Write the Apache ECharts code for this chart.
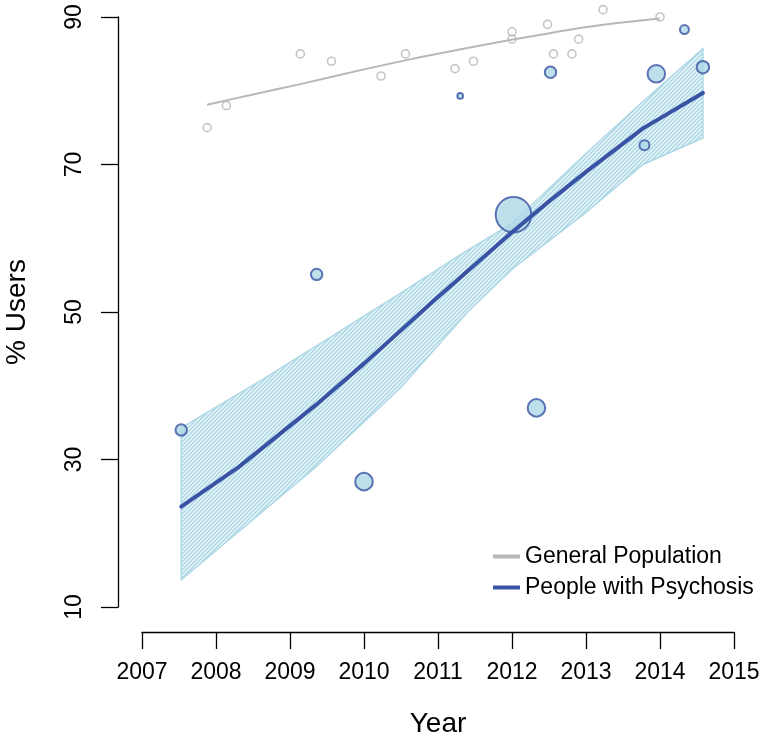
<!DOCTYPE html>
<html><head><meta charset="utf-8">
<script src="https://cdn.jsdelivr.net/npm/echarts@6/dist/echarts.min.js"></script>
<style>html,body{margin:0;padding:0;background:#fff}#c{width:760px;height:745px}</style>
</head><body><div id="c"></div>
<script>
// ---- General population (small hollow grey circles + trend) ----
const genYears  = [2007.88, 2008.14, 2009.14, 2009.56, 2010.23, 2010.56, 2011.23, 2011.48, 2012.0, 2012.0, 2012.48, 2012.56, 2012.81, 2012.9, 2013.23, 2014.0];
const genValues = [75, 78, 85, 84, 82, 85, 83, 84, 88, 87, 89, 85, 85, 87, 91, 90];
const genFitYears  = [2007.88, 2008.5, 2009.14, 2010.0, 2010.74, 2011.5, 2012.45, 2013.2, 2014.0];
const genFitValues = [78.1, 79.5, 80.9, 82.9, 84.5, 86.0, 87.7, 88.9, 89.8];

// ---- People with psychosis (bubbles sized by study sample) ----
const psyYears   = [2007.53, 2009.36, 2010.0, 2011.3, 2012.02, 2012.33, 2012.52, 2013.79, 2013.95, 2014.33, 2014.58];
const psyValues  = [34.0, 55.1, 27.0, 79.3, 63.2, 37.0, 82.5, 72.6, 82.3, 88.3, 83.2];
const psySampleN = [29, 29, 63, 9, 238, 63, 29, 23, 63, 19, 34];
const fitYears   = [2007.53, 2008.31, 2009.35, 2010.0, 2010.95, 2012.0, 2012.5, 2013.0, 2013.77, 2014.58];
const fitValues  = [23.6, 29.0, 37.4, 43.0, 51.6, 60.8, 65.0, 69.0, 74.9, 79.7];
const upperYears  = [2007.53, 2008.62, 2009.5, 2010.5, 2011.37, 2012.0, 2013.0, 2013.8, 2014.58];
const upperValues = [34.3, 40.8, 46.3, 52.6, 58.2, 62.0, 71.5, 78.8, 85.7];
const lowerYears  = [2007.53, 2009.35, 2010.5, 2011.4, 2012.0, 2013.0, 2013.77, 2014.58];
const lowerValues = [13.7, 29.0, 39.8, 50.0, 55.8, 63.5, 70.0, 73.6];

// ---- axes ----
const yTicks = [10, 30, 50, 70, 90];
const xMin = 2007, xMax = 2015;
const seriesNames = ['General Population', 'People with Psychosis'];

const FONT = '"Liberation Sans", Arial, Helvetica, sans-serif';
const BLUE = '#3953a4', LIGHT = '#add8e6', GREY = '#b8b8b8';

function hatchCanvas() {
  const s = 4;
  const c = document.createElement('canvas');
  c.width = s; c.height = s;
  const g = c.getContext('2d');
  g.strokeStyle = LIGHT; g.lineWidth = 1.8; g.lineCap = 'square';
  g.beginPath();
  g.moveTo(-1, s + 1); g.lineTo(s + 1, -1);
  g.moveTo(-1, 1); g.lineTo(1, -1);
  g.moveTo(s - 1, s + 1); g.lineTo(s + 1, s - 1);
  g.stroke();
  return c;
}
const hatch = hatchCanvas();

const zip = (xs, ys) => xs.map((x, i) => [x, ys[i]]);

const chart = echarts.init(document.getElementById('c'), null, {renderer: 'canvas'});
chart.setOption({
  animation: false,
  backgroundColor: '#fff',
  textStyle: {fontFamily: FONT, color: '#000'},
  grid: {left: 142, right: 26, top: 17, bottom: 138, containLabel: false, outerBoundsMode: 'none'},
  xAxis: {
    type: 'value', min: xMin, max: xMax, interval: 1, offset: 25,
    axisLine: {show: true, onZero: false, lineStyle: {color: '#000', width: 1.3}},
    axisTick: {show: true, length: 17, lineStyle: {color: '#000', width: 1.3}},
    axisLabel: {margin: 29, fontSize: 23, color: '#000', fontFamily: FONT, formatter: v => String(v), showMinLabel: true, showMaxLabel: true, hideOverlap: false},
    splitLine: {show: false},
    name: 'Year', nameLocation: 'middle', nameGap: 78,
    nameTextStyle: {fontSize: 28, color: '#000', fontFamily: FONT}
  },
  yAxis: {
    type: 'value', min: 10, max: 90, offset: 24,
    axisLine: {show: true, onZero: false, lineStyle: {color: '#000', width: 1.3}},
    axisTick: {show: true, length: 17, customValues: yTicks, lineStyle: {color: '#000', width: 1.3}},
    axisLabel: {customValues: yTicks, rotate: 90, margin: 32, fontSize: 23, color: '#000', fontFamily: FONT},
    splitLine: {show: false},
    name: '% Users', nameLocation: 'middle', nameGap: 87,
    nameTextStyle: {fontSize: 28, color: '#000', fontFamily: FONT}
  },
  legend: {
    data: seriesNames, orient: 'vertical', left: 488, top: 540,
    icon: 'rect', itemWidth: 27, itemHeight: 4, itemGap: 8,
    textStyle: {fontSize: 23, color: '#000', fontFamily: FONT, lineHeight: 23},
    selectedMode: false
  },
  series: [
    {
      type: 'scatter', name: 'gen-points', z: 1, clip: false,
      data: zip(genYears, genValues), symbol: 'circle', symbolSize: 8,
      itemStyle: {color: 'rgba(0,0,0,0)', borderColor: GREY, borderWidth: 1.6},
      silent: true
    },
    {
      type: 'line', name: seriesNames[0], z: 2, data: zip(genFitYears, genFitValues),
      showSymbol: false, smooth: 0.3, color: GREY,
      lineStyle: {color: GREY, width: 2}, itemStyle: {color: GREY}, silent: true
    },
    {
      type: 'custom', name: 'band', z: 3, silent: true,
      data: [[2011, 50]],
      renderItem: (params, api) => {
        const pts = [];
        upperYears.forEach((x, i) => pts.push(api.coord([x, upperValues[i]])));
        for (let i = lowerYears.length - 1; i >= 0; i--) pts.push(api.coord([lowerYears[i], lowerValues[i]]));
        return {
          type: 'polygon', shape: {points: pts},
          style: {fill: {image: hatch, repeat: 'repeat'}, stroke: LIGHT, lineWidth: 1.5}
        };
      }
    },
    {
      type: 'scatter', name: 'psy-points', z: 4, clip: false,
      data: psyYears.map((x, i) => [x, psyValues[i], psySampleN[i]]),
      symbol: 'circle', symbolSize: d => 2.4 * Math.sqrt(d[2]) - 1.5,
      itemStyle: {color: LIGHT, borderColor: BLUE, borderWidth: 2}, silent: true
    },
    {
      type: 'line', name: seriesNames[1], z: 5, data: zip(fitYears, fitValues),
      showSymbol: false, color: BLUE,
      lineStyle: {color: BLUE, width: 4, cap: 'round', join: 'round'}, itemStyle: {color: BLUE}, silent: true
    }
  ]
});
</script>
</body></html>
